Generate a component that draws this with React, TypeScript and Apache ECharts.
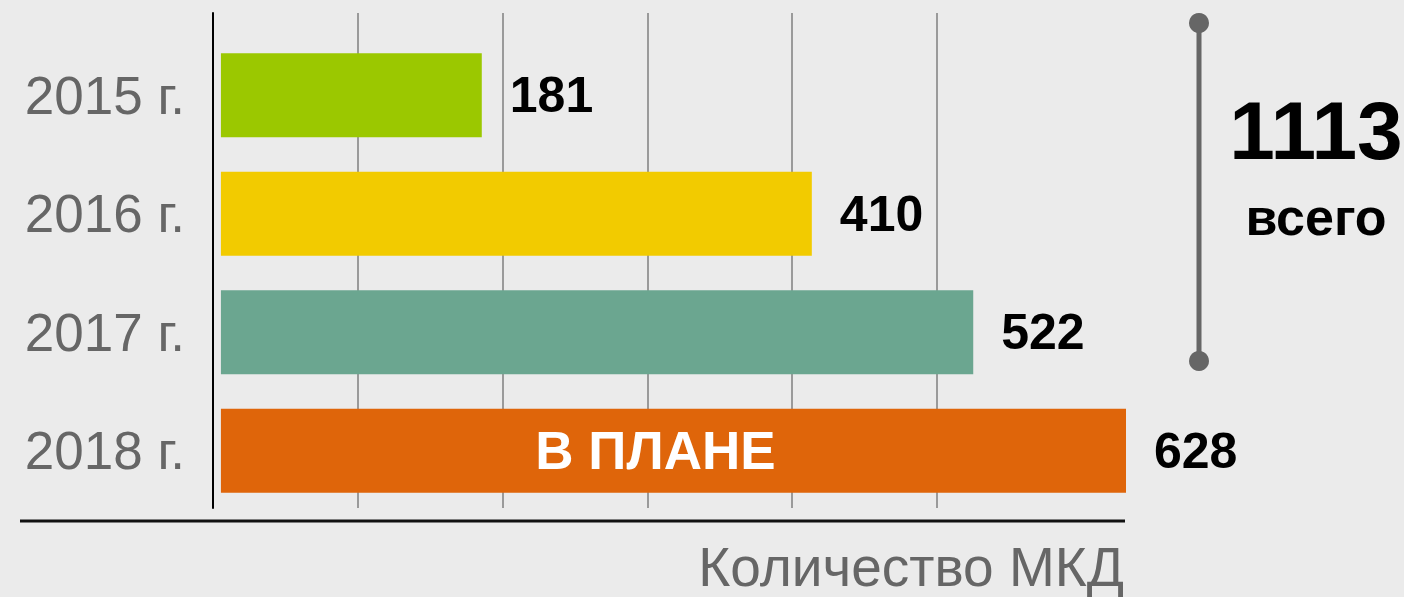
import React, { useEffect, useRef } from "react";
import * as echarts from "echarts";

const categories = ["2015 г.", "2016 г.", "2017 г.", "2018 г."];
const values = [181, 410, 522, 628];
const barColors = ["#9bc800", "#f2cb00", "#6ba690", "#df650a"];
const planLabel = "В ПЛАНЕ";
const totalLabel = "всего";
const axisTitle = "Количество МКД";
const gridTicks = [0, 100, 200, 300, 400, 500];

const FONT = "'Liberation Sans', Arial, sans-serif";

export default function App() {
  const ref = useRef<HTMLDivElement>(null);

  useEffect(() => {
    document.body.style.margin = "0";
    if (!ref.current) return;
    const chart = echarts.init(ref.current, undefined, { renderer: "svg" });
    const total = values.slice(0, 3).reduce((a, b) => a + b, 0);

    const option: any = {
      animation: false,
      backgroundColor: "#ebebeb",
      textStyle: { fontFamily: FONT },
      grid: [
        { left: 213, right: 467, top: 13, bottom: 89 },
        { left: 213, right: 278, top: 36, bottom: 87 },
      ],
      xAxis: [
        {
          gridIndex: 0,
          type: "value",
          min: gridTicks[0],
          max: gridTicks[gridTicks.length - 1],
          interval: 100,
          axisLine: { show: false },
          axisTick: { show: false },
          axisLabel: { show: false },
          splitLine: { show: true, lineStyle: { color: "#9a9a9a", width: 2 } },
        },
        {
          gridIndex: 1,
          type: "value",
          min: -5.5,
          max: 628,
          axisLine: { show: false },
          axisTick: { show: false },
          axisLabel: { show: false },
          splitLine: { show: false },
        },
      ],
      yAxis: [
        {
          gridIndex: 0,
          type: "value",
          axisLine: { show: true, lineStyle: { color: "#000", width: 2 } },
          axisTick: { show: false },
          axisLabel: { show: false },
          splitLine: { show: false },
        },
        {
          gridIndex: 1,
          type: "category",
          inverse: true,
          data: categories,
          axisLine: { show: false },
          axisTick: { show: false },
          axisLabel: {
            margin: 28,
            fontSize: 53,
            color: "#666666",
            fontFamily: FONT,
          },
        },
      ],
      series: [
        {
          type: "bar",
          xAxisIndex: 1,
          yAxisIndex: 1,
          barWidth: 84,
          barGap: "-100%",
          data: values.map((v, i) => ({ value: v, itemStyle: { color: barColors[i] } })),
          label: {
            show: true,
            position: "right",
            distance: 28,
            fontSize: 50,
            fontWeight: "bold",
            color: "#000",
            fontFamily: FONT,
          },
        },
        {
          type: "bar",
          xAxisIndex: 1,
          yAxisIndex: 1,
          barWidth: 84,
          barGap: "-100%",
          data: values.map((v, i) => (i === values.length - 1 ? v : null)),
          itemStyle: { color: "rgba(0,0,0,0)" },
          label: {
            show: true,
            position: "inside",
            offset: [-18, 0],
            formatter: planLabel,
            fontSize: 53,
            fontWeight: "bold",
            color: "#ffffff",
            fontFamily: FONT,
          },
          silent: true,
        },
      ],
      graphic: [
        {
          type: "line",
          shape: { x1: 20, y1: 521, x2: 1125, y2: 521 },
          style: { stroke: "#111", lineWidth: 3 },
        },
        {
          type: "line",
          shape: { x1: 1199, y1: 23, x2: 1199, y2: 361 },
          style: { stroke: "#666", lineWidth: 5 },
        },
        { type: "circle", shape: { cx: 1199, cy: 23, r: 10 }, style: { fill: "#666" } },
        { type: "circle", shape: { cx: 1199, cy: 361, r: 10 }, style: { fill: "#666" } },
        {
          type: "text",
          x: 1316,
          y: 130,
          style: {
            text: String(total),
            font: `bold 82px ${FONT}`,
            fill: "#000",
            textAlign: "center",
            textVerticalAlign: "middle",
          },
        },
        {
          type: "text",
          x: 1316,
          y: 217,
          style: {
            text: totalLabel,
            font: `bold 52px ${FONT}`,
            fill: "#000",
            textAlign: "center",
            textVerticalAlign: "middle",
          },
        },
        {
          type: "text",
          x: 1124,
          y: 567,
          style: {
            text: axisTitle,
            font: `55px ${FONT}`,
            fill: "#666",
            textAlign: "right",
            textVerticalAlign: "middle",
          },
        },
      ],
    };
    chart.setOption(option);
    return () => chart.dispose();
  }, []);

  return <div ref={ref} style={{ width: 1404, height: 597 }} />;
}
